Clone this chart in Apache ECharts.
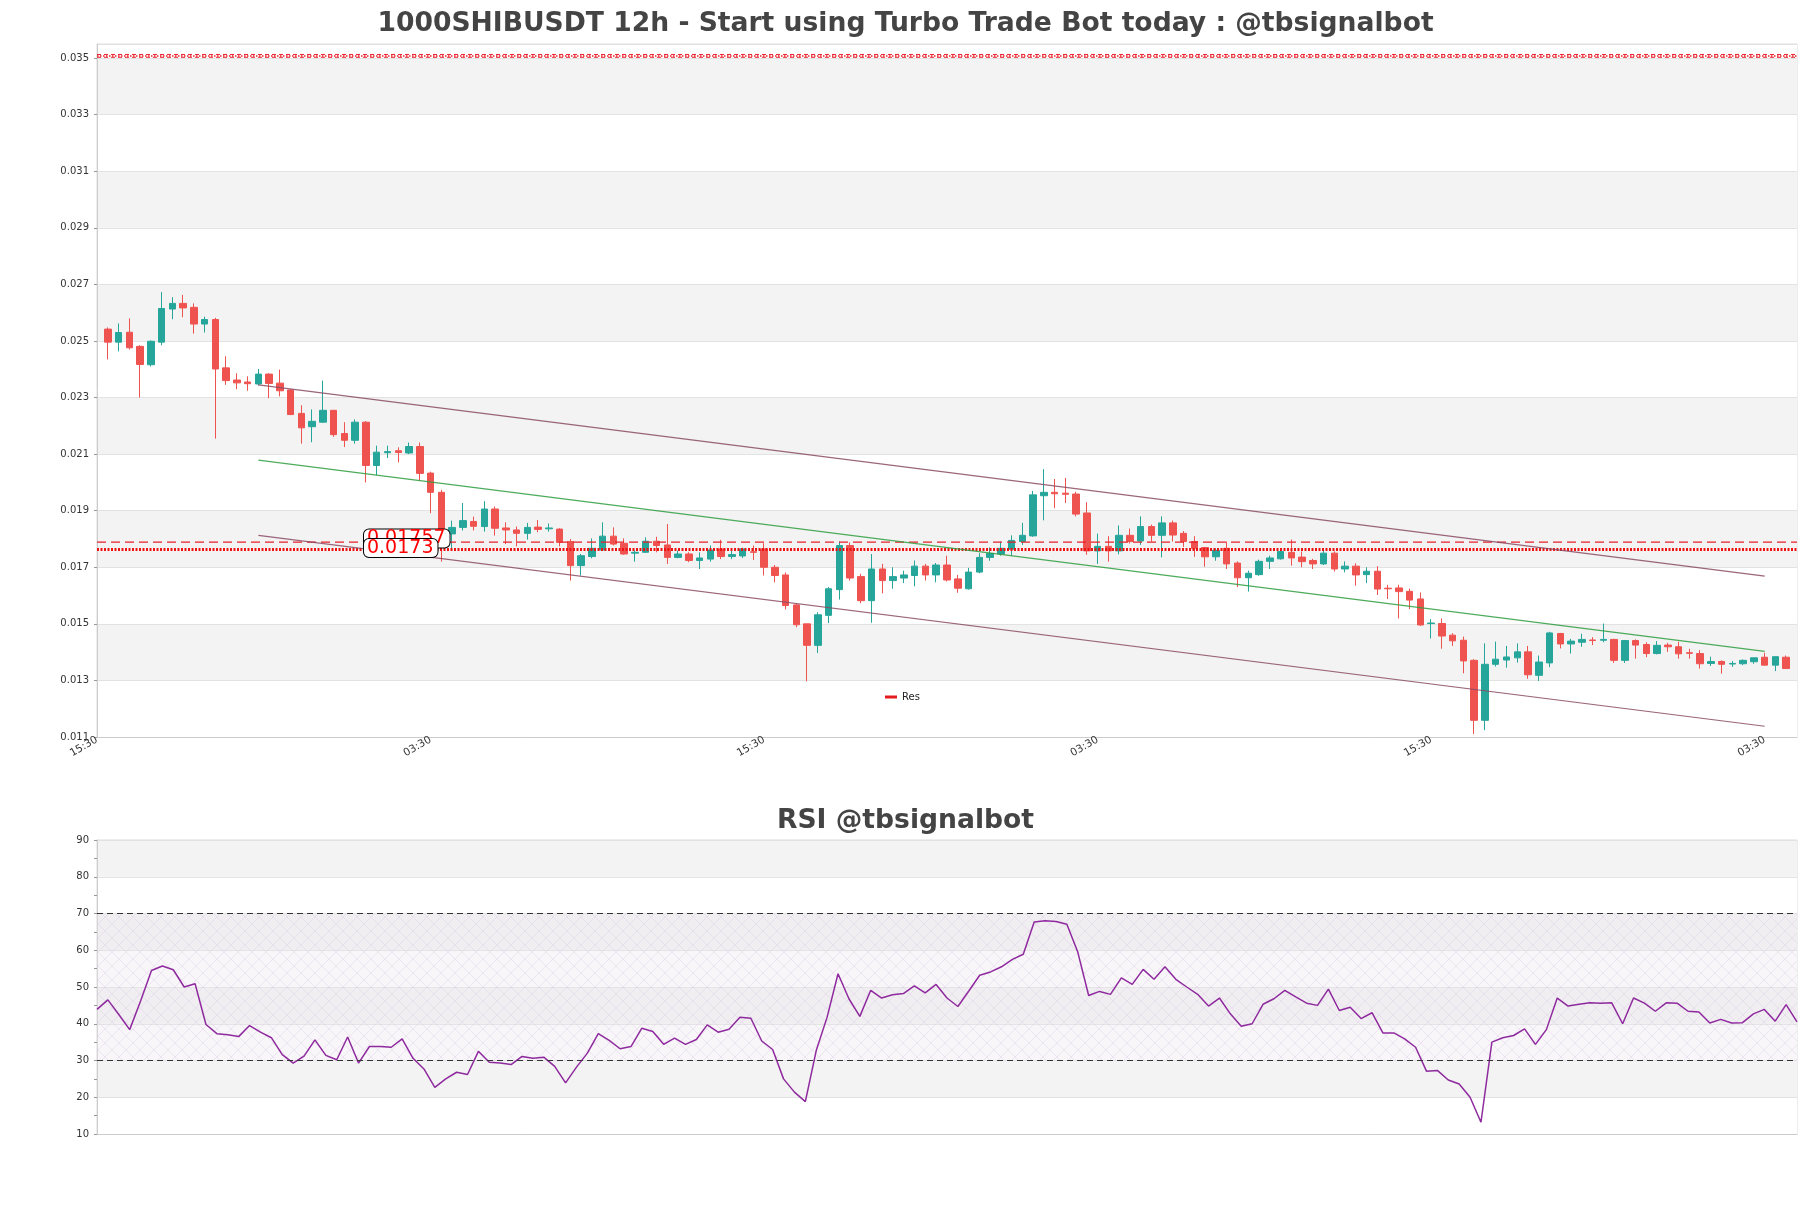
<!DOCTYPE html>
<html><head><meta charset="utf-8">
<script src="https://cdn.jsdelivr.net/npm/echarts@6/dist/echarts.min.js"></script>
<style>html,body{margin:0;padding:0;background:#fff}#c{width:1811px;height:1208px}</style>
</head><body><div id="c"></div>
<script>
// ---- data ----
const candleOpen = [0.02542,0.02496,0.02531,0.02481,0.02416,0.02496,0.02613,0.02633,0.02619,0.0256,
0.02576,0.02405,0.02362,0.02355,0.02348,0.02383,0.02351,0.02327,0.02244,0.02197,
0.02213,0.02255,0.02173,0.02149,0.02213,0.0206,0.02105,0.02112,0.02104,0.02127,
0.02033,0.01965,0.01818,0.01841,0.01862,0.01844,0.01906,0.01839,0.01832,0.0182,
0.01842,0.01836,0.01835,0.01791,0.01706,0.01738,0.01761,0.0181,0.01785,0.0175,
0.01753,0.01792,0.01779,0.01735,0.01747,0.01724,0.01729,0.01765,0.01738,0.0174,
0.01755,0.01765,0.017,0.01673,0.01567,0.015,0.01424,0.0153,0.01621,0.01777,
0.01667,0.01582,0.01694,0.01653,0.01662,0.01671,0.01704,0.01673,0.01708,0.01659,
0.01624,0.01683,0.01735,0.01747,0.01764,0.01791,0.01811,0.01953,0.01965,0.01962,
0.01959,0.01892,0.01758,0.01774,0.01758,0.01813,0.01793,0.01844,0.01813,0.01857,
0.0182,0.01791,0.0177,0.01737,0.01767,0.01715,0.01663,0.01674,0.01721,0.0173,
0.01753,0.01736,0.01724,0.01712,0.0175,0.01694,0.01704,0.01674,0.01686,0.01626,
0.01627,0.01615,0.01588,0.01501,0.01501,0.0146,0.01442,0.01371,0.01159,0.01357,
0.01372,0.0138,0.01401,0.01318,0.01362,0.01466,0.01429,0.01435,0.01443,0.01442,
0.01445,0.01371,0.01441,0.01427,0.01395,0.01425,0.01419,0.01398,0.01395,0.0136,
0.01367,0.01358,0.01359,0.01366,0.01382,0.01354,0.01382];
const candleClose = [0.02496,0.0253,0.02476,0.02417,0.02499,0.02615,0.02633,0.02617,0.0256,0.02576,
0.02401,0.0236,0.02352,0.02349,0.02383,0.0235,0.02324,0.0224,0.02193,0.02216,
0.02255,0.02169,0.02149,0.02213,0.0206,0.02107,0.02109,0.02106,0.02127,0.02032,
0.01965,0.018,0.01841,0.01865,0.01845,0.01906,0.01838,0.01832,0.0182,0.01841,
0.01834,0.01839,0.01788,0.01706,0.01741,0.01767,0.0181,0.01782,0.01747,0.01753,
0.01792,0.01777,0.01735,0.01747,0.01724,0.01733,0.01761,0.01738,0.01745,0.01765,
0.01753,0.017,0.01671,0.01565,0.01497,0.01424,0.01532,0.01624,0.01777,0.01662,
0.01582,0.01694,0.01653,0.01667,0.01673,0.01704,0.01673,0.01708,0.01655,0.01626,
0.01683,0.01735,0.01749,0.01767,0.01795,0.01813,0.01956,0.01965,0.0196,0.01958,
0.01888,0.01758,0.01774,0.01758,0.01813,0.01791,0.01844,0.01813,0.01857,0.01814,
0.01791,0.01767,0.01737,0.0176,0.01712,0.01663,0.01679,0.01721,0.01733,0.01756,
0.01733,0.0172,0.01712,0.0175,0.01694,0.01704,0.01673,0.01686,0.01623,0.01624,
0.01614,0.01584,0.01496,0.01503,0.01457,0.0144,0.01369,0.01159,0.01357,0.01375,
0.01383,0.01401,0.0132,0.01365,0.01468,0.01429,0.01439,0.01445,0.01441,0.01445,
0.01371,0.01441,0.01425,0.01395,0.01424,0.01419,0.01394,0.01396,0.01359,0.01367,
0.01357,0.0136,0.01371,0.0138,0.01354,0.01384,0.01342];
const candleLow = [0.02435,0.02463,0.0247,0.023,0.0241,0.02485,0.02577,0.02584,0.02526,0.0253,
0.02155,0.02345,0.0233,0.02324,0.02342,0.02298,0.02304,0.02238,0.02137,0.02142,
0.02211,0.02161,0.02125,0.02137,0.02,0.02026,0.02086,0.02071,0.021,0.02006,
0.01891,0.0172,0.01767,0.0183,0.0183,0.01826,0.01812,0.01782,0.01774,0.01798,
0.01824,0.01826,0.01774,0.01653,0.01671,0.01732,0.01759,0.01777,0.01744,0.0172,
0.01751,0.01753,0.01712,0.01732,0.01718,0.01694,0.0172,0.01729,0.01729,0.01733,
0.01726,0.01671,0.01647,0.01551,0.01488,0.01297,0.01397,0.01503,0.01586,0.01653,
0.01573,0.01504,0.01608,0.01624,0.01644,0.01633,0.01653,0.01647,0.0165,0.0161,
0.01621,0.01679,0.01723,0.01741,0.01741,0.01779,0.01808,0.01866,0.01909,0.01927,
0.0188,0.01744,0.01712,0.0172,0.01746,0.01784,0.01779,0.01791,0.01735,0.01791,
0.01772,0.01737,0.01702,0.01723,0.01694,0.0163,0.01614,0.0167,0.01694,0.01727,
0.01706,0.017,0.01694,0.01708,0.01685,0.01682,0.01635,0.01644,0.01602,0.01588,
0.01519,0.01552,0.01493,0.01448,0.01412,0.01422,0.01325,0.01111,0.01124,0.01349,
0.01345,0.01363,0.01306,0.01298,0.01347,0.01413,0.01395,0.01419,0.01425,0.01435,
0.01362,0.01362,0.01377,0.01382,0.01392,0.01401,0.01377,0.01377,0.01342,0.01351,
0.01324,0.01348,0.01354,0.01359,0.01354,0.01333,0.01342];
const candleHigh = [0.02548,0.02562,0.0258,0.02485,0.02502,0.02673,0.02655,0.02663,0.02633,0.02586,
0.02582,0.02446,0.02386,0.02375,0.02401,0.02386,0.02399,0.02329,0.02273,0.02258,
0.0236,0.02255,0.02213,0.02223,0.02217,0.0213,0.0213,0.02124,0.02141,0.02141,
0.02038,0.01974,0.01865,0.01927,0.01879,0.01934,0.01915,0.01859,0.01844,0.01857,
0.01867,0.01855,0.01838,0.018,0.01747,0.01802,0.01859,0.01841,0.01802,0.0176,
0.01806,0.01808,0.01853,0.01759,0.01753,0.01753,0.01777,0.01797,0.01768,0.01769,
0.01777,0.01785,0.01708,0.01682,0.01571,0.015,0.01541,0.0163,0.01791,0.01788,
0.01677,0.01747,0.01712,0.017,0.01688,0.01724,0.01712,0.01715,0.01741,0.01673,
0.01698,0.0175,0.0177,0.01791,0.01813,0.01857,0.0197,0.02047,0.02012,0.02016,
0.01967,0.0193,0.01819,0.0181,0.01848,0.01837,0.0188,0.01851,0.0188,0.01865,
0.01828,0.0181,0.01772,0.01767,0.01791,0.01721,0.01688,0.01727,0.01741,0.01762,
0.01798,0.01756,0.0173,0.01765,0.01756,0.01721,0.01714,0.017,0.01704,0.01638,
0.01638,0.01625,0.01611,0.01517,0.01519,0.01467,0.01455,0.01375,0.01431,0.01437,
0.01422,0.01431,0.01422,0.01388,0.01472,0.01468,0.01447,0.01465,0.01453,0.01501,
0.01447,0.01442,0.01445,0.01435,0.01439,0.01433,0.01437,0.01412,0.01407,0.01384,
0.01371,0.01368,0.01374,0.0138,0.01398,0.01384,0.01388];
const rsiValues = [43.9,46.5,42.5,38.4,46.2,54.5,55.7,54.7,50.0,50.9,
39.8,37.3,37.0,36.5,39.5,37.7,36.2,31.6,29.3,31.2,
35.6,31.4,30.2,36.4,29.3,33.8,33.8,33.6,35.9,30.6,
27.7,22.7,25.0,26.8,26.2,32.5,29.5,29.3,28.9,31.1,
30.6,30.9,28.4,23.9,28.2,32.0,37.3,35.5,33.2,33.8,
38.8,37.9,34.4,36.1,34.4,35.7,39.7,37.7,38.5,41.8,
41.5,35.3,33.0,25.0,21.4,18.8,32.7,41.8,53.6,46.8,
42.0,49.1,47.0,47.9,48.2,50.3,48.4,50.7,47.0,44.7,
48.9,53.2,54.1,55.5,57.5,58.9,67.7,68.0,67.8,67.1,
59.5,47.7,48.8,48.0,52.5,50.7,54.8,52.1,55.5,52.1,
50.0,48.0,44.8,47.0,42.7,39.3,40.0,45.3,46.8,49.1,
47.3,45.6,45.0,49.4,43.6,44.5,41.4,43.0,37.5,37.5,
35.9,33.6,27.1,27.3,24.7,23.6,20.0,13.2,35.0,36.2,
36.8,38.6,34.4,38.4,47.0,44.8,45.3,45.7,45.6,45.7,
40.0,47.0,45.6,43.4,45.7,45.6,43.4,43.2,40.2,41.2,
40.2,40.3,42.7,43.9,40.7,45.2,40.5];
// channel lines: [categoryIndex, price]
const channelUpper = [[15, 0.02345], [155, 0.01669]];
const channelMid   = [[15, 0.02079], [155, 0.01403]];
const channelLower = [[15, 0.01813], [155, 0.01138]];
// horizontal levels
const levelTop = 0.03508, levelDashed = 0.01789, levelDotted = 0.01763;
const levelLabels = [{text: '0.01757', x: 25, y: 0.01802}, {text: '0.0173', x: 25, y: 0.01768}];
// x tick labels (category index -> label)
const xTickIdx = [0, 31, 62, 93, 124, 155];
const xTickText = ['15:30', '03:30', '15:30', '03:30', '15:30', '03:30'];
const titleMain = '1000SHIBUSDT 12h - Start using Turbo Trade Bot today : @tbsignalbot';
const titleRsi = 'RSI @tbsignalbot';

// ---- build ----
const nCat = candleOpen.length + 2;
const lastCat = nCat - 1;
const cats = [];
for (let i = 0; i < nCat; i++) { const k = xTickIdx.indexOf(i); cats.push(k >= 0 ? xTickText[k] : 'c' + i); }
const candleData = candleOpen.map((o, i) => [i + 1, o, candleClose[i], candleLow[i], candleHigh[i]]);
const rsiCats = rsiValues.map((v, i) => 'r' + i);
const hline = (v) => [[0, v], [lastCat, v]];

const hatch = document.createElement('canvas');
hatch.width = 14; hatch.height = 14;
(function () {
  const g = hatch.getContext('2d');
  g.fillStyle = 'rgba(238,230,242,0.35)'; g.fillRect(0, 0, 14, 14);
  g.strokeStyle = 'rgba(205,188,218,0.5)'; g.lineWidth = 0.6;
  g.beginPath(); g.moveTo(0, 0); g.lineTo(14, 14); g.moveTo(14, 0); g.lineTo(0, 14); g.stroke();
})();

const FONT = 'DejaVu Sans';
const RED = '#e8202a';
const lineBase = {type: 'line', xAxisIndex: 0, yAxisIndex: 0, showSymbol: false, silent: true, z: 5};
const chart = echarts.init(document.getElementById('c'), null, {renderer: 'canvas'});
chart.setOption({
  animation: false,
  backgroundColor: '#fff',
  textStyle: {fontFamily: FONT},
  title: [
    {text: titleMain, left: 'center', top: 6, textStyle: {fontFamily: FONT, fontSize: 26.6, fontWeight: 'bold', color: '#444'}},
    {text: titleRsi, left: 'center', top: 803, textStyle: {fontFamily: FONT, fontSize: 26.6, fontWeight: 'bold', color: '#444'}}
  ],
  legend: {data: ['Res'], left: 880, top: 687, icon: 'rect', itemWidth: 12, itemHeight: 3, itemGap: 6,
    textStyle: {fontFamily: FONT, fontSize: 10, color: '#222'}},
  grid: [
    {left: 97, right: 14, top: 44, height: 693, show: true, borderColor: '#dcdcdc', borderWidth: 1, backgroundColor: 'transparent'},
    {left: 97, right: 14, top: 840, height: 294, show: true, borderColor: '#dcdcdc', borderWidth: 1, backgroundColor: 'transparent'}
  ],
  xAxis: [
    {type: 'category', gridIndex: 0, data: cats, boundaryGap: false,
      axisLine: {lineStyle: {color: '#ccc'}},
      axisTick: {show: false},
      axisLabel: {interval: (i) => xTickIdx.includes(i), rotate: 30, fontSize: 10.5, color: '#333', margin: 2, fontFamily: FONT},
      splitLine: {show: false}},
    {type: 'category', gridIndex: 1, data: rsiCats, boundaryGap: false,
      axisLine: {lineStyle: {color: '#ccc'}}, axisTick: {show: false}, axisLabel: {show: false}, splitLine: {show: false}}
  ],
  yAxis: [
    {type: 'value', gridIndex: 0, min: 0.011, max: 0.0355, interval: 0.002,
      axisLine: {show: true, lineStyle: {color: '#ccc'}},
      axisTick: {show: true, length: 3, lineStyle: {color: '#999'}},
      axisLabel: {showMaxLabel: false, fontSize: 10, color: '#333', fontFamily: FONT, margin: 8,
        formatter: (v) => v.toFixed(3)},
      splitLine: {show: true, lineStyle: {color: '#e2e2e2', width: 1}},
      splitArea: {show: true, areaStyle: {color: ['#ffffff', '#f3f3f3']}}},
    {type: 'value', gridIndex: 1, min: 10, max: 90, interval: 10,
      axisLine: {show: true, lineStyle: {color: '#ccc'}},
      axisTick: {show: true, length: 3, lineStyle: {color: '#999'}},
      minorTick: {show: true, splitNumber: 2, length: 3, lineStyle: {color: '#999'}},
      axisLabel: {fontSize: 10, color: '#333', fontFamily: FONT, margin: 8},
      splitLine: {show: true, lineStyle: {color: '#e2e2e2'}},
      splitArea: {show: true, areaStyle: {color: ['#ffffff', '#f3f3f3']}}}
  ],
  series: [
    {type: 'candlestick', name: 'price', xAxisIndex: 0, yAxisIndex: 0, data: candleData,
      encode: {x: 0, y: [1, 2, 3, 4]}, barWidth: 7, z: 3,
      itemStyle: {color: '#26a69a', color0: '#ef5350', borderColor: '#26a69a', borderColor0: '#ef5350', borderWidth: 1}},
    Object.assign({}, lineBase, {name: 'top1', data: hline(levelTop + 0.00005), lineStyle: {color: RED, type: [4, 3], width: 1}}),
    Object.assign({}, lineBase, {name: 'top2', data: hline(levelTop), lineStyle: {color: RED, type: [1.5, 1.5], width: 1.5}}),
    Object.assign({}, lineBase, {name: 'top3', data: hline(levelTop - 0.00005), lineStyle: {color: RED, type: [4, 3], width: 1}}),
    Object.assign({}, lineBase, {name: 'dashedLevel', data: hline(levelDashed), lineStyle: {color: RED, type: [9, 5], width: 1.3}}),
    Object.assign({}, lineBase, {name: 'Res', data: hline(levelDotted), color: '#e41a1c', itemStyle: {color: '#e41a1c'},
      lineStyle: {color: '#ee1111', type: [2, 1.5], width: 3}}),
    Object.assign({}, lineBase, {name: 'upper', data: channelUpper, lineStyle: {color: '#8a4a63', width: 1.2, opacity: 0.85}}),
    Object.assign({}, lineBase, {name: 'mid', data: channelMid, lineStyle: {color: '#2e9e3e', width: 1.2, opacity: 0.85}}),
    Object.assign({}, lineBase, {name: 'lower', data: channelLower, lineStyle: {color: '#8a4a63', width: 1.2, opacity: 0.85},
      markPoint: {symbol: 'circle', symbolSize: 0, silent: true, z: 8,
        data: levelLabels.map(l => ({coord: [l.x, l.y], value: l.text,
          label: {show: true, position: 'right', distance: -2, formatter: l.text, fontFamily: FONT, fontSize: 19,
            color: '#ff0000', backgroundColor: '#fff', borderColor: '#000', borderWidth: 1, borderRadius: 5,
            padding: [0, 4, 0, 3], lineHeight: 18}}))}}),
    {type: 'line', name: 'RSI', xAxisIndex: 1, yAxisIndex: 1, data: rsiValues, showSymbol: false,
      lineStyle: {color: '#8e2a9e', width: 1.5}, itemStyle: {color: '#8e2a9e'},
      markArea: {silent: true, itemStyle: {color: {image: hatch, repeat: 'repeat'}},
        data: [[{yAxis: 30}, {yAxis: 70}]]},
      markLine: {symbol: 'none', silent: true, label: {show: false},
        data: [{yAxis: 70}, {yAxis: 30}], lineStyle: {color: '#333', type: [6, 4], width: 1.2}}}
  ]
});
</script></body></html>
